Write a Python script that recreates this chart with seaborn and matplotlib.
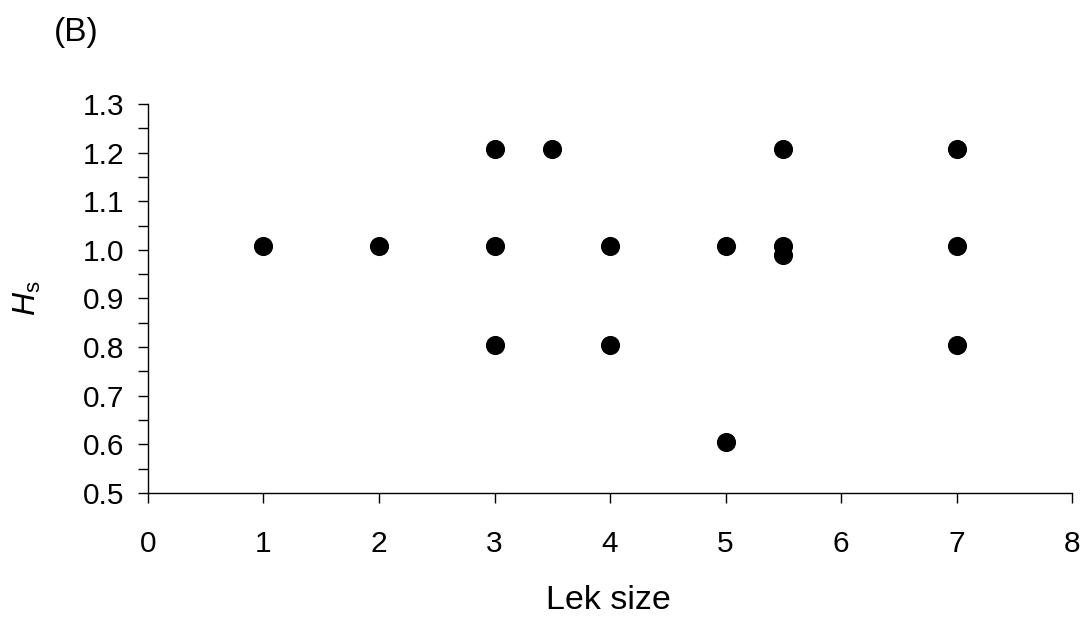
import matplotlib
matplotlib.use("Agg")
import matplotlib.pyplot as plt
import seaborn as sns
import pandas as pd
from matplotlib.ticker import MultipleLocator

# Lek size and within-lek heterozygosity
lek_size = [1, 2, 3, 3, 3, 3.5, 4, 4, 5, 5, 5.5, 5.5, 5.5, 7, 7, 7]
hs = [1.007, 1.007, 1.207, 1.007, 0.805, 1.207, 1.007, 0.805,
      1.007, 0.605, 1.207, 1.007, 0.990, 1.207, 1.007, 0.805]
x_ticks = [0, 1, 2, 3, 4, 5, 6, 7, 8]
y_ticks = [0.5, 0.6, 0.7, 0.8, 0.9, 1.0, 1.1, 1.2, 1.3]

df = pd.DataFrame({"Lek size": lek_size, "Hs": hs})

sns.set_style("ticks")
plt.rcParams["font.family"] = ["Liberation Sans", "DejaVu Sans"]
plt.rcParams["mathtext.fontset"] = "custom"
plt.rcParams["mathtext.rm"] = "Liberation Sans"
plt.rcParams["mathtext.it"] = "Liberation Sans:italic"
for key in ("text.color", "axes.labelcolor", "xtick.color", "ytick.color",
            "axes.edgecolor"):
    plt.rcParams[key] = "black"

fig = plt.figure(figsize=(10.84, 6.18), dpi=100)
ax = fig.add_axes([0.1365, 0.2023, 0.8525, 0.6294])

sns.scatterplot(data=df, x="Lek size", y="Hs", ax=ax, color="black",
                s=190, edgecolor="black", linewidth=0, legend=False, zorder=3)

ax.set_xlim(0, 8)
ax.set_ylim(0.5, 1.3)
ax.set_xticks(x_ticks)
ax.set_xticklabels([str(t) for t in x_ticks])
ax.set_yticks(y_ticks)
ax.set_yticklabels([f"{t:.1f}" for t in y_ticks])
ax.yaxis.set_minor_locator(MultipleLocator(0.05))

for side in ("top", "right"):
    ax.spines[side].set_visible(False)
for side in ("left", "bottom"):
    ax.spines[side].set_color("black")
    ax.spines[side].set_linewidth(1.0)

ax.tick_params(axis="both", which="major", direction="out", length=7,
               width=1.0, color="black", labelsize=21.5, labelcolor="black")
ax.tick_params(axis="x", which="major", pad=20)
ax.tick_params(axis="y", which="major", pad=10)
ax.tick_params(axis="y", which="minor", direction="out", length=7,
               width=1.0, color="black")

ax.set_xlabel("Lek size", fontsize=24.5)
ax.xaxis.set_label_coords(0.498, -0.236)
ax.set_ylabel(r"$\mathit{H}_\mathrm{s}$", fontsize=23)
ax.yaxis.set_label_coords(-0.1136, 0.5)

fig.text(0.070, 0.948, "(B)", fontsize=24, ha="center", va="center")

fig.savefig("out.png", dpi=100, facecolor="white")
